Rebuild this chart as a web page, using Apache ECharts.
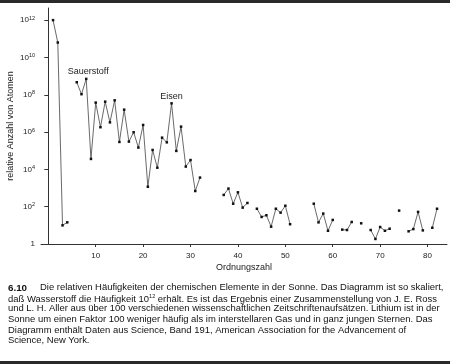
<!DOCTYPE html>
<html><head><meta charset="utf-8">
<script src="https://cdn.jsdelivr.net/npm/echarts@6/dist/echarts.min.js"></script>
<style>html,body{margin:0;padding:0;background:#fff}#c{width:450px;height:364px}</style>
</head><body><div id="c"></div>
<script>
// Ordnungszahl (atomic number) of each point
const atomicNumbers = [1,2,3,4,5,6,7,8,9,10,11,12,13,14,15,16,17,18,19,20,21,22,23,24,25,26,27,28,29,30,31,32,33,34,35,36,37,38,39,40,41,42,43,44,45,46,47,48,49,50,51,52,53,54,55,56,57,58,59,60,61,62,63,64,65,66,67,68,69,70,71,72,73,74,75,76,77,78,79,80,81,82];
// log10 of relative number of atoms (null = no data)
const logAbundance = [12.0,10.8,1.0,1.16,null,8.67,8.03,8.85,4.56,7.58,6.26,7.63,6.52,7.7,5.47,7.2,5.49,5.99,5.17,6.38,3.07,5.04,4.09,5.7,5.45,7.54,4.99,6.29,4.15,4.5,2.84,3.56,null,null,null,null,2.63,2.97,2.16,2.77,1.95,2.2,null,1.89,1.45,1.54,0.93,1.89,1.68,2.05,1.06,null,null,null,null,2.16,1.16,1.63,0.71,1.29,null,0.77,0.75,1.18,null,1.11,null,0.75,0.27,0.91,0.71,0.82,null,1.79,null,0.68,0.8,1.72,0.73,null,0.87,1.89];
const annotations = {8:'Sauerstoff', 26:'Eisen'};
const xTickValues = [10,20,30,40,50,60,70,80];
const yTickExponents = [0,2,4,6,8,10,12];
const captionLines = [
 'Die relativen Häufigkeiten der chemischen Elemente in der Sonne. Das Diagramm ist so skaliert,',
 'daß Wasserstoff die Häufigkeit 10{s|12} erhält. Es ist das Ergebnis einer Zusammenstellung von J. E. Ross',
 'und L. H. Aller aus über 100 verschiedenen wissenschaftlichen Zeitschriftenaufsätzen. Lithium ist in der',
 'Sonne um einen Faktor 100 weniger häufig als im interstellaren Gas und in ganz jungen Sternen. Das',
 'Diagramm enthält Daten aus Science, Band 191, American Association for the Advancement of',
 'Science, New York.'
];

const FONT = '"Liberation Sans", Arial, Helvetica, sans-serif';
const data = atomicNumbers.map((z, i) => {
  const e = logAbundance[i];
  const item = { value: [z, e === null ? null : Math.pow(10, e)] };
  if (annotations[z]) {
    item.label = { show: true, position: 'top', formatter: annotations[z], fontFamily: FONT, fontSize: 9, color: '#222',
      distance: z === 8 ? 2 : 1, offset: z === 8 ? [2, 0] : [0, 0] };
  }
  return item;
});

const chart = echarts.init(document.getElementById('c'), null, {renderer: 'canvas'});
const graphics = [
  {type: 'rect', shape: {x: 0, y: 0, width: 450, height: 3}, style: {fill: '#2a2a2a'}},
  {type: 'rect', shape: {x: 0, y: 361, width: 450, height: 3}, style: {fill: '#2a2a2a'}},
  {type: 'text', left: 8, top: 283, style: {text: '6.10', font: 'bold 9.8px ' + FONT, fill: '#111'}}
];
captionLines.forEach((t, i) => {
  graphics.push({type: 'text', left: i === 0 ? 40 : 8, top: 283 + i * 10.6,
    style: {text: t, fontFamily: FONT, fontSize: 9.45, fill: '#111',
      rich: {s: {fontSize: 5.5, fontFamily: FONT, verticalAlign: 'top', padding: [0, 0, 5, 0], fill: '#111'}}}});
});

chart.setOption({
  animation: false,
  grid: {left: 41, right: 3, top: 8, bottom: 120, containLabel: false, outerBoundsMode: 'none'},
  xAxis: {
    type: 'value', min: -1.54, max: 84.1,
    axisLine: {onZero: false, lineStyle: {color: '#333', width: 1}},
    axisTick: {show: true, length: 3, inside: false, customValues: xTickValues, lineStyle: {color: '#333'}},
    axisLabel: {customValues: xTickValues, fontFamily: FONT, fontSize: 8, color: '#222', margin: 8},
    splitLine: {show: false},
    name: 'Ordnungszahl', nameLocation: 'middle', nameGap: 19, nameMoveOverlap: false,
    nameTextStyle: {fontFamily: FONT, fontSize: 9, color: '#222'}
  },
  yAxis: {
    type: 'log', logBase: 10, min: 1, max: Math.pow(10, 12.65),
    axisLine: {onZero: true, lineStyle: {color: '#333', width: 1}},
    axisTick: {show: true, length: 4, customValues: yTickExponents.map(e => Math.pow(10, e)), lineStyle: {color: '#333'}},
    axisLabel: {
      customValues: yTickExponents.map(e => Math.pow(10, e)),
      fontFamily: FONT, fontSize: 8, color: '#222', margin: 6,
      formatter: v => { const e = Math.round(Math.log10(v)); return e === 0 ? '1' : '10{s|' + e + '}'; },
      rich: {s: {fontSize: 5.5, fontFamily: FONT, verticalAlign: 'top', padding: [0, 0, 4, 0], color: '#222'}}
    },
    splitLine: {show: false},
    name: 'relative Anzahl von Atomen', nameLocation: 'middle', nameGap: 26, nameRotate: 90, nameMoveOverlap: false,
    nameTextStyle: {fontFamily: FONT, fontSize: 9, color: '#222'}
  },
  series: [{
    type: 'line', data: data, connectNulls: false,
    symbol: 'rect', symbolSize: 2.5, showAllSymbol: true,
    lineStyle: {color: '#444', width: 0.8},
    itemStyle: {color: '#111'}
  }],
  graphic: graphics
});
</script></body></html>
